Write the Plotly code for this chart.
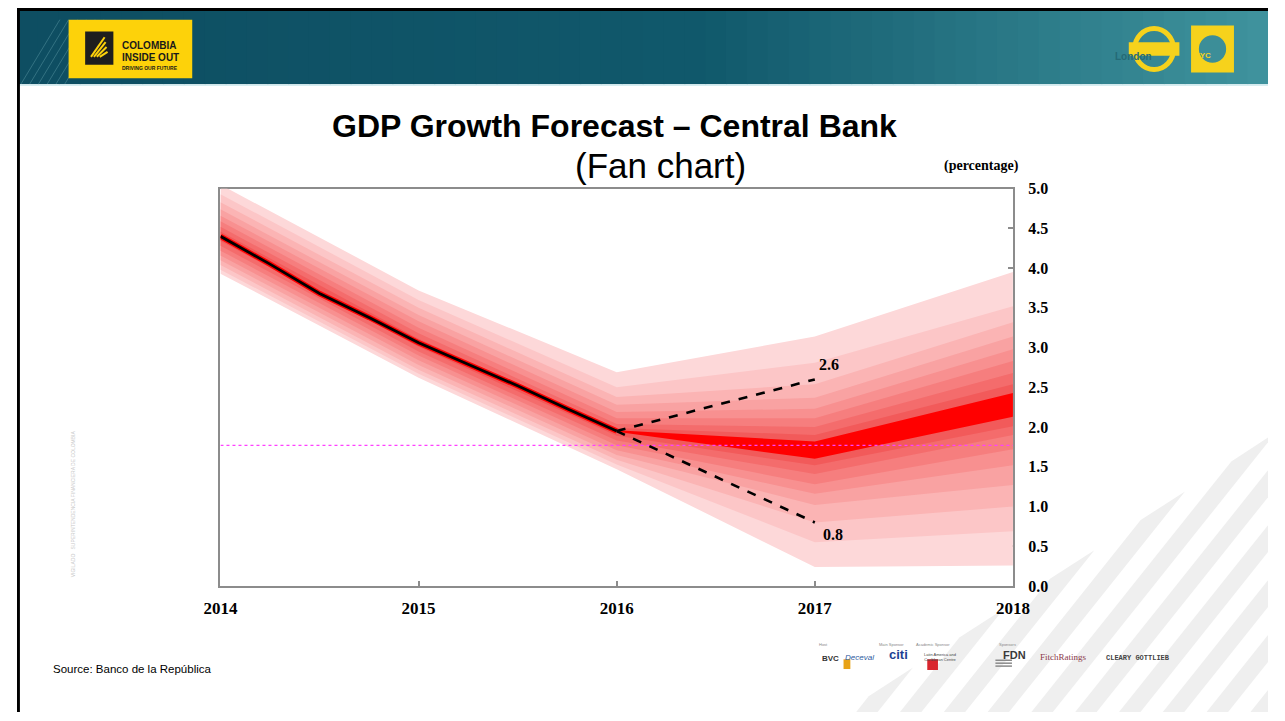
import plotly.graph_objects as go

W, H = 1285, 721


def px(x):
    return x / W


def py(y):
    return 1 - y / H


# ---------------- data ----------------
x_ticks = [2014, 2015, 2016, 2017, 2018]
x_tick_labels = ["2014", "2015", "2016", "2017", "2018"]
y_ticks = [0.0, 0.5, 1.0, 1.5, 2.0, 2.5, 3.0, 3.5, 4.0, 4.5, 5.0]
y_tick_labels = ["0.0", "0.5", "1.0", "1.5", "2.0", "2.5", "3.0", "3.5", "4.0", "4.5", "5.0"]

band_years = [2014, 2015, 2016, 2017, 2018]
# band boundaries, outermost -> innermost
upper_2014 = [5.05, 4.93, 4.83, 4.74, 4.66, 4.59, 4.52, 4.46]
lower_2014 = [3.93, 3.98, 4.04, 4.10, 4.16, 4.22, 4.28, 4.34]
upper_2015 = [3.72, 3.60, 3.50, 3.41, 3.33, 3.25, 3.18, 3.11]
lower_2015 = [2.62, 2.67, 2.72, 2.78, 2.84, 2.90, 2.95, 3.01]
upper_2016 = [2.69, 2.50, 2.38, 2.28, 2.19, 2.11, 2.04, 1.99]
lower_2016 = [1.47, 1.53, 1.59, 1.65, 1.71, 1.77, 1.83, 1.89]
upper_2017 = [3.14, 2.81, 2.54, 2.37, 2.23, 2.11, 2.00, 1.90]
lower_2017 = [0.24, 0.55, 0.80, 1.02, 1.16, 1.28, 1.41, 1.52]
upper_2018 = [3.95, 3.52, 3.32, 3.14, 2.98, 2.83, 2.68, 2.54]
lower_2018 = [0.26, 0.69, 1.00, 1.27, 1.52, 1.72, 1.90, 2.01]

forecast_years = [2016, 2017, 2018]
central_top = [1.96, 1.82, 2.43]
central_bottom = [1.94, 1.60, 2.13]

observed_quarters = [2014.0, 2014.25, 2014.5, 2014.75, 2015.0, 2015.25, 2015.5, 2015.75, 2016.0]
observed_growth = [4.40, 4.05, 3.68, 3.38, 3.06, 2.79, 2.52, 2.23, 1.95]

scenario_years = [2016, 2017]
scenario_high = [1.95, 2.6]
scenario_low = [1.95, 0.8]
reference_level = 1.77

band_colors = ["#FDD8D9", "#FCC6C7", "#FBB4B4", "#F9A2A2", "#F89090", "#F67E7E", "#F46C6C", "#F25A5A"]

# ---------------- figure ----------------
fig = go.Figure()

uppers = [upper_2014, upper_2015, upper_2016, upper_2017, upper_2018]
lowers = [lower_2014, lower_2015, lower_2016, lower_2017, lower_2018]
for i, col in enumerate(band_colors):
    up = [u[i] for u in uppers]
    lo = [l[i] for l in lowers]
    fig.add_trace(go.Scatter(
        x=band_years + band_years[::-1], y=up + lo[::-1],
        fill="toself", fillcolor=col, mode="lines", line=dict(width=0),
        hoverinfo="skip"))

fig.add_trace(go.Scatter(
    x=forecast_years + forecast_years[::-1], y=central_top + central_bottom[::-1],
    fill="toself", fillcolor="#FF0000", mode="lines", line=dict(width=0),
    hoverinfo="skip"))

fig.add_trace(go.Scatter(
    x=[2014, 2018], y=[reference_level, reference_level], mode="lines",
    line=dict(color="#FF40FF", width=1.2, dash="dot"), hoverinfo="skip"))

fig.add_trace(go.Scatter(x=observed_quarters, y=observed_growth, mode="lines",
                         line=dict(color="#FF0000", width=5.5), hoverinfo="skip"))
fig.add_trace(go.Scatter(x=observed_quarters, y=observed_growth, mode="lines",
                         line=dict(color="black", width=2.8), hoverinfo="skip"))

for ys in (scenario_high, scenario_low):
    fig.add_trace(go.Scatter(x=scenario_years, y=ys, mode="lines",
                             line=dict(color="black", width=2.6, dash="dash"),
                             hoverinfo="skip"))

serif_bold = dict(family="Liberation Serif", color="black", weight="bold")

annotations = [
    dict(x=scenario_years[1], y=scenario_high[1], xref="x", yref="y",
         text=f"{scenario_high[1]:.1f}", showarrow=False, xanchor="left", yanchor="bottom",
         xshift=2, yshift=4, font=dict(size=16, **serif_bold)),
    dict(x=scenario_years[1], y=scenario_low[1], xref="x", yref="y",
         text=f"{scenario_low[1]:.1f}", showarrow=False, xanchor="left", yanchor="top",
         xshift=6, yshift=-2, font=dict(size=16, **serif_bold)),
    dict(x=px(614), y=py(100), xref="paper", yref="paper", showarrow=False,
         text="<b>GDP Growth Forecast – Central Bank</b>",
         font=dict(family="Liberation Sans", size=32, color="black")),
    dict(x=px(661), y=py(139), xref="paper", yref="paper", showarrow=False,
         text="(Fan chart)",
         font=dict(family="Liberation Sans", size=35, color="black")),
    dict(x=px(1031), y=py(152), xref="paper", yref="paper", showarrow=False,
         text="(percentage)", font=dict(size=14, **serif_bold)),
    dict(x=px(35), y=py(685), xref="paper", yref="paper", showarrow=False,
         xanchor="left", text="Source: Banco de la República",
         font=dict(family="Liberation Sans", size=11.5, color="black")),
    # logo texts
    dict(x=px(106), y=py(31), xref="paper", yref="paper", showarrow=False, xanchor="left",
         text="<b>COLOMBIA</b>", font=dict(family="Liberation Sans", size=10, color="#1A1A1A")),
    dict(x=px(106), y=py(43), xref="paper", yref="paper", showarrow=False, xanchor="left",
         text="<b>INSIDE OUT</b>", font=dict(family="Liberation Sans", size=10, color="#1A1A1A")),
    dict(x=px(106), y=py(56), xref="paper", yref="paper", showarrow=False, xanchor="left",
         text="<b>DRIVING OUR FUTURE</b>", font=dict(family="Liberation Sans", size=5, color="#1A1A1A")),
    dict(x=px(1168), y=py(42), xref="paper", yref="paper", showarrow=False,
         text="<b>London</b>", font=dict(family="Liberation Sans", size=10, color="#256A76")),
    dict(x=px(1228), y=py(42), xref="paper", yref="paper", showarrow=False,
         text="<b>NYC</b>", font=dict(family="Liberation Sans", size=8, color="#F6D21C")),
    # watermark
    dict(x=px(52), y=py(585), xref="paper", yref="paper", showarrow=False, textangle=-90,
         text="VIGILADO   SUPERINTENDENCIA FINANCIERA DE COLOMBIA",
         font=dict(family="Liberation Sans", size=5, color="#C8C8C8")),
    # sponsors row
    dict(x=px(836), y=py(673), xref="paper", yref="paper", showarrow=False,
         text="<b>BVC</b>", font=dict(family="Liberation Sans", size=8, color="#333333")),
    dict(x=px(882), y=py(672), xref="paper", yref="paper", showarrow=False,
         text="<i>Deceval</i>", font=dict(family="Liberation Sans", size=8, color="#2C5AA0")),
    dict(x=px(917), y=py(672), xref="paper", yref="paper", showarrow=False,
         text="<b>citi</b>", font=dict(family="Liberation Sans", size=13, color="#1C3F94")),
    dict(x=px(968), y=py(672), xref="paper", yref="paper", showarrow=False,
         text="Latin America and<br>Caribbean Centre", font=dict(family="Liberation Sans", size=4, color="#444444")),
    dict(x=px(1038), y=py(671), xref="paper", yref="paper", showarrow=False,
         text="<b>FDN</b>", font=dict(family="Liberation Sans", size=11, color="#3A3A3A")),
    dict(x=px(1101), y=py(672), xref="paper", yref="paper", showarrow=False,
         text="FitchRatings", font=dict(family="Liberation Serif", size=9, color="#8B3A4A")),
    dict(x=px(1186), y=py(672), xref="paper", yref="paper", showarrow=False,
         text="<b>CLEARY GOTTLIEB</b>", font=dict(family="Liberation Mono", size=7, color="#444444")),
]
for lbl, xx in [("Host", 828), ("Main Sponsor", 913), ("Academic Sponsor", 960), ("Sponsors", 1028)]:
    annotations.append(dict(x=px(xx), y=py(656), xref="paper", yref="paper", showarrow=False,
                            text=lbl, font=dict(family="Liberation Sans", size=4, color="#888888")))

shapes = []


def clip_right(pts, xmax):
    out = []
    n = len(pts)
    for i in range(n):
        a, b = pts[i], pts[(i + 1) % n]
        ina, inb = a[0] <= xmax, b[0] <= xmax
        if ina:
            out.append(a)
        if ina != inb:
            t = (xmax - a[0]) / (b[0] - a[0])
            out.append((xmax, a[1] + t * (b[1] - a[1])))
    return out


# bottom-right diagonal stripes (behind everything)
slope = 0.8
bx0, by0, bx1, by1 = 850, 721, 1285, 440
k = (by0 - by1) / (bx1 - bx0)


def top_t(x0):
    return k * (x0 - bx0) / (1 - k * slope)


x0 = 862
while x0 < W:
    w = 22
    t1, t2 = top_t(x0), top_t(x0 + w)
    pts = [(x0, 721), (x0 + w, 721), (x0 + w + slope * t2, 721 - t2), (x0 + slope * t1, 721 - t1)]
    pts = clip_right(pts, W)
    pts = [(a, max(b, 0)) for a, b in pts]
    if len(pts) >= 3:
        path = "M " + " L ".join(f"{px(a):.5f},{py(b):.5f}" for a, b in pts) + " Z"
        shapes.append(dict(type="path", xref="paper", yref="paper", path=path,
                           fillcolor="#EFEFEF", line=dict(width=0), layer="below"))
    x0 += 45

# header gradient
stops = [(0.0, (14, 78, 98)), (0.55, (17, 89, 108)), (1.0, (64, 148, 158))]


def grad(t):
    for (a, ca), (b, cb) in zip(stops[:-1], stops[1:]):
        if a <= t <= b:
            f = (t - a) / (b - a)
            return "rgb(%d,%d,%d)" % tuple(int(ca[j] + (cb[j] - ca[j]) * f) for j in range(3))
    return "rgb(64,148,158)"


n = 60
for i in range(n):
    shapes.append(dict(type="rect", xref="paper", yref="paper",
                       x0=i / n, x1=min((i + 1) / n + 0.001, 1), y0=py(78), y1=1,
                       fillcolor=grad((i + 0.5) / n), line=dict(width=0)))
# faint diagonal lines on the left of header
for i in range(6):
    xs = 4 + i * 9
    shapes.append(dict(type="line", xref="paper", yref="paper",
                       x0=px(xs), y0=py(78), x1=px(xs + 40), y1=py(12),
                       line=dict(color="rgba(120,180,190,0.35)", width=1)))
shapes.append(dict(type="rect", xref="paper", yref="paper", x0=0, x1=1, y0=py(80), y1=py(78),
                   fillcolor="#D6EDF0", line=dict(width=0)))
# black borders
shapes.append(dict(type="rect", xref="paper", yref="paper", x0=0, x1=1, y0=py(3), y1=1,
                   fillcolor="black", line=dict(width=0)))
shapes.append(dict(type="rect", xref="paper", yref="paper", x0=0, x1=px(3), y0=0, y1=1,
                   fillcolor="black", line=dict(width=0)))
# Colombia Inside Out logo
shapes.append(dict(type="rect", xref="paper", yref="paper", x0=px(53), x1=px(180), y0=py(72), y1=py(12),
                   fillcolor="#FDD20A", line=dict(width=0)))
shapes.append(dict(type="rect", xref="paper", yref="paper", x0=px(70), x1=px(99), y0=py(58), y1=py(24),
                   fillcolor="#1E1E1E", line=dict(width=0)))
for j in range(4):
    shapes.append(dict(type="line", xref="paper", yref="paper",
                       x0=px(76 + j * 3), y0=py(50), x1=px(90 + j * 1), y1=py(30 + j * 5),
                       line=dict(color="#FDD20A", width=2)))
# London roundel
shapes.append(dict(type="circle", xref="paper", yref="paper",
                   x0=px(1148), x1=px(1188), y0=py(63), y1=py(21),
                   line=dict(color="#F6D21C", width=5), fillcolor="rgba(0,0,0,0)"))
shapes.append(dict(type="rect", xref="paper", yref="paper", x0=px(1142), x1=px(1194), y0=py(49), y1=py(35),
                   fillcolor="#F6D21C", line=dict(width=0)))
# NYC badge
shapes.append(dict(type="rect", xref="paper", yref="paper", x0=px(1207), x1=px(1249), y0=py(65), y1=py(19),
                   fillcolor="#F6D21C", line=dict(color="#F6D21C", width=2)))
shapes.append(dict(type="circle", xref="paper", yref="paper",
                   x0=px(1214), x1=px(1242), y0=py(56), y1=py(28),
                   fillcolor="#3C8E98", line=dict(width=0)))
# sponsor graphic bits
shapes.append(dict(type="rect", xref="paper", yref="paper", x0=px(935), x1=px(946), y0=py(678), y1=py(667),
                   fillcolor="#D9262E", line=dict(width=0)))
for j in range(3):
    shapes.append(dict(type="line", xref="paper", yref="paper", x0=px(1005), x1=px(1022),
                       y0=py(668 + j * 3), y1=py(668 + j * 3), line=dict(color="#8A8A8A", width=1.5)))
shapes.append(dict(type="rect", xref="paper", yref="paper", x0=px(849), x1=px(856), y0=py(677), y1=py(667),
                   fillcolor="#E8A317", line=dict(width=0)))

axis_common = dict(ticks="inside", ticklen=5, tickcolor="#8C8C8C", tickwidth=1.5,
                   showline=True, linecolor="#8C8C8C", linewidth=2, mirror=True,
                   showgrid=False, zeroline=False, layer="below traces")

fig.update_layout(
    autosize=True, margin=dict(l=0, r=0, t=0, b=0),
    paper_bgcolor="white", plot_bgcolor="rgba(0,0,0,0)", showlegend=False,
    xaxis=dict(domain=[px(209), px(1023)], range=[2014, 2018], tickvals=x_ticks,
               ticktext=x_tick_labels, tickfont=dict(size=17, **serif_bold),
               ticklabelstandoff=6, **axis_common),
    yaxis=dict(domain=[py(592), py(185)], range=[0, 5], side="right", tickvals=y_ticks,
               ticktext=y_tick_labels, tickfont=dict(size=16, **serif_bold),
               ticklabelstandoff=10, **axis_common),
    shapes=shapes, annotations=annotations,
)

fig.write_html("out.html", config={"displayModeBar": False, "responsive": True},
               default_width="100vw;position:fixed;left:0px;top:0px;margin:0px",
               default_height="100vh")
